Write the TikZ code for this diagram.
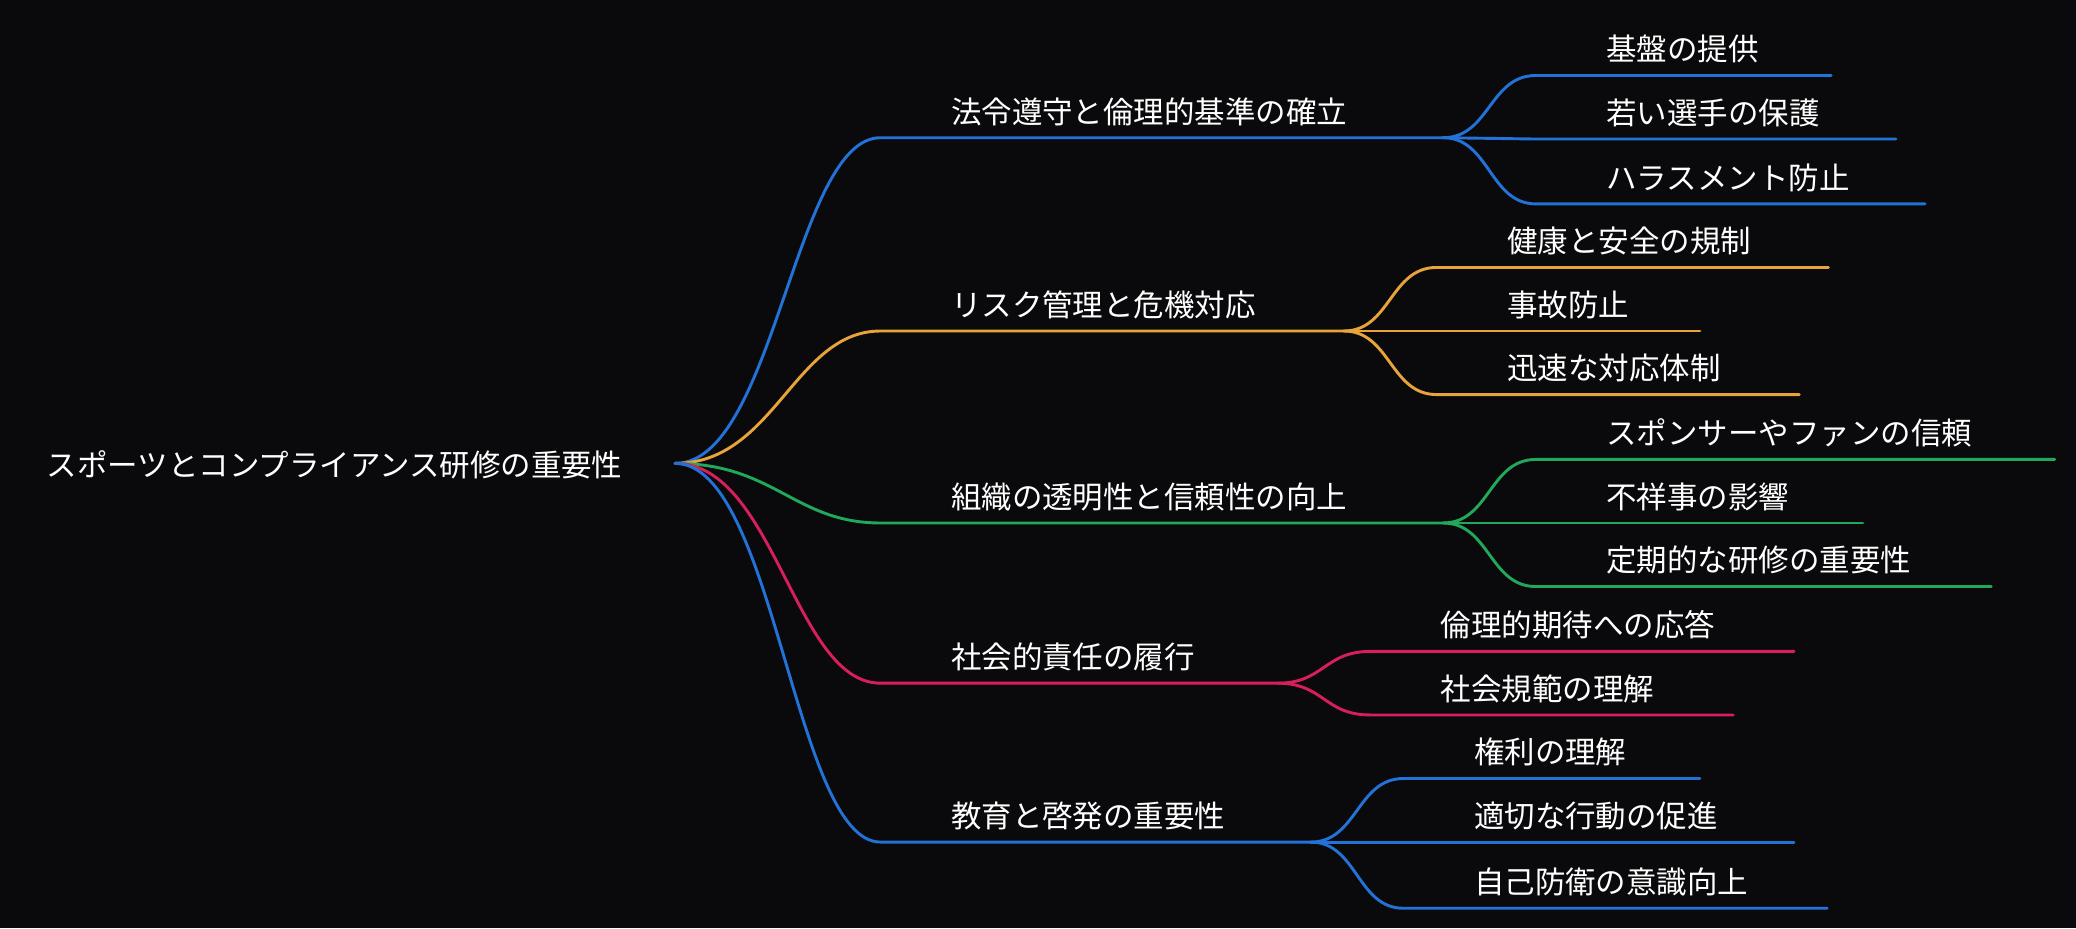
\documentclass[tikz,border=0pt]{standalone}
\usepackage{fontspec}
\setmainfont{Noto Sans CJK JP}
\definecolor{bg}{HTML}{0A0A0C}
\definecolor{cb}{HTML}{2272D8}
\definecolor{co}{HTML}{E8A33A}
\definecolor{cg}{HTML}{22A85A}
\definecolor{cr}{HTML}{D81E5B}
\tikzset{
 lbl/.style={text=white,anchor=base west,inner sep=0pt,font=\fontsize{13.1}{16}\selectfont},
 br/.style={line width=1.25pt,line cap=round},
}
\begin{document}
\begin{tikzpicture}[x=0.02cm,y=-0.02cm]
\fill[bg] (0,0) rectangle (1568,701);
\node[lbl] (root) at (35,360) {スポーツとコンプライアンス研修の重要性};
\coordinate (r) at (510,350);
\foreach \c/\y/\e/\t/\n in {cb/104/1090/法令遵守と倫理的基準の確立/a, co/250/1015/リスク管理と危機対応/b, cg/395/1090/組織の透明性と信頼性の向上/c, cr/516/965/社会的責任の履行/d, cb/636/990/教育と啓発の重要性/e}{
 \coordinate (\n s) at (665,\y);
 \coordinate (\n e) at (\e,\y);
 \draw[br,\c] (r) .. controls (585,350) and (600,\y) .. (\n s) -- (\n e);
 \node[lbl] (\n t) at (718,\y-11) {\t};
}
\foreach \p/\c/\x/\y/\e/\t/\n in {
 a/cb/1160/57/1383/基盤の提供/a1, a/cb/1160/105/1432/若い選手の保護/a2, a/cb/1160/154/1454/ハラスメント防止/a3,
 b/co/1085/202/1381/健康と安全の規制/b1, b/co/1085/250/1284/事故防止/b2, b/co/1085/298/1359/迅速な対応体制/b3,
 c/cg/1160/347/1552/スポンサーやファンの信頼/c1, c/cg/1160/395/1407/不祥事の影響/c2, c/cg/1160/443/1504/定期的な研修の重要性/c3,
 d/cr/1035/492/1355/倫理的期待への応答/d1, d/cr/1035/540/1309/社会規範の理解/d2,
 e/cb/1060/588/1284/権利の理解/e1, e/cb/1060/636/1355/適切な行動の促進/e2, e/cb/1060/686/1380/自己防衛の意識向上/e3}{
 \coordinate (\n s) at (\x,\y);
 \coordinate (\n e) at (\e,\y);
 \draw[br,\c] (\p e) .. controls ([xshift=35*0.02cm]\p e) and ([xshift=-35*0.02cm]\n s) .. (\n s) -- (\n e);
 \node[lbl] (\n t) at (\x+53,\y-11) {\t};
}
\end{tikzpicture}
\end{document}
